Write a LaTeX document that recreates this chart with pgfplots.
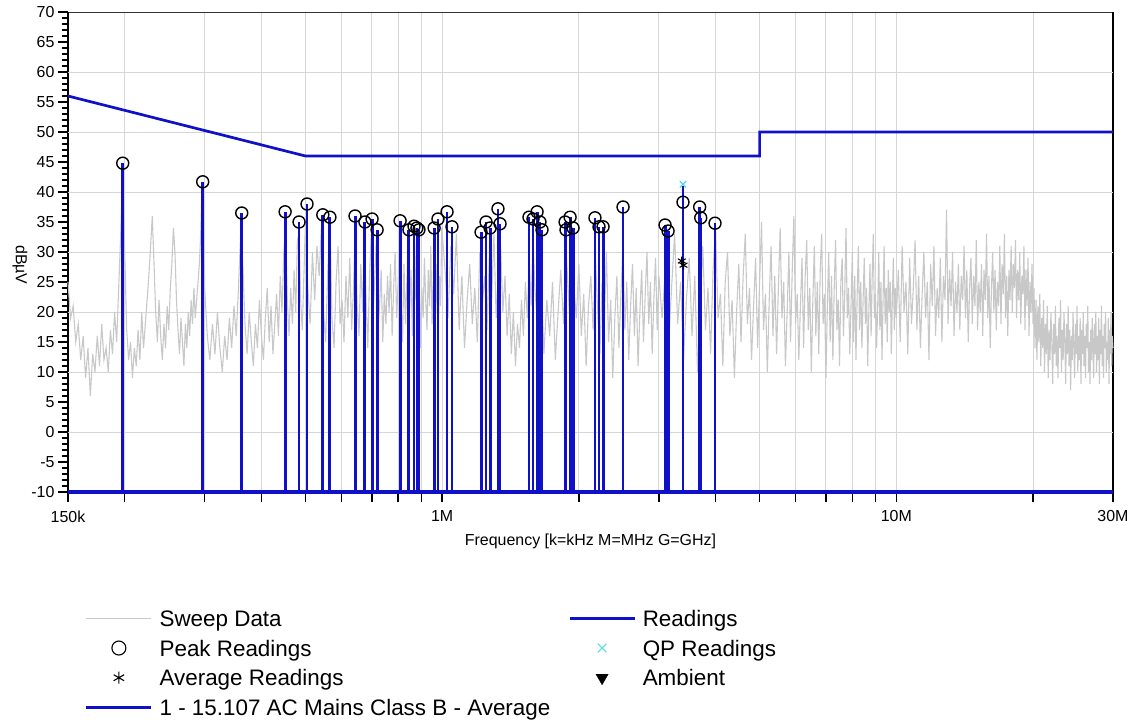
\documentclass[border=0pt]{standalone}
\usepackage{pgfplots}
\pgfplotsset{compat=1.18}
\usepackage{fontspec}
\setmainfont{Liberation Sans}
\definecolor{rblue}{RGB}{16,16,200}
\definecolor{sweep}{RGB}{200,200,200}
\definecolor{gridc}{RGB}{214,214,214}
\definecolor{qpc}{RGB}{90,215,230}
\begin{document}
\begin{tikzpicture}
\begin{axis}[
  scale only axis, width=1045bp, height=480bp,
  xmode=log, xmin=0.15, xmax=30, ymin=-10, ymax=70,
  clip=false,
  /pgf/number format/assume math mode=true,
  tick label style={font=\fontsize{16}{19}\selectfont},
  label style={font=\fontsize{16}{19}\selectfont},
  xticklabel style={yshift=-5bp},
  xtick={0.15,0.2,0.3,0.4,0.5,0.6,0.7,0.8,0.9,1,2,3,4,5,6,7,8,9,10,20,30},
  xticklabels={150k,,,,,,,,,1M,,,,,,,,,10M,,30M},
  ytick={-10,-5,...,70},
  minor y tick num=4,
  xtick pos=bottom, ytick pos=left,
  xmajorgrids,
  major grid style={gridc, line width=0.9bp},
  extra y ticks={0,10,20,30,40,50,60},
  extra y tick labels={},
  extra y tick style={ymajorgrids=true, tick style={draw=none}},
  tick align=outside,
  major tick length=10bp, minor tick length=6bp,
  tick style={black, line width=1.4bp},
  separate axis lines,
  x axis line style={black!80, line width=0.9bp},
  y axis line style={black, line width=2bp},
  xlabel={Frequency [k=kHz M=MHz G=GHz]},
  xlabel style={yshift=-5bp},
  ylabel={dBµV},
  every axis y label/.style={at={(axis description cs:-0.046,0.473)}, rotate=-90, anchor=center, font=\fontsize{16}{19}\selectfont},
  legend columns=2,
  legend style={at={(0.01627,-0.244)}, anchor=north west, draw=none, fill=none,
    inner sep=0pt, font=\fontsize{22.5}{27}\selectfont,
    nodes={inner sep=0pt, text height=17bp, text depth=5bp, anchor=base west},
    row sep=7.7bp,
    /tikz/every odd column/.append style={column sep=7bp},
    /tikz/every even column/.append style={column sep=18bp}},
  legend cell align=left,
  legend image code/.code={\draw[mark repeat=2,mark phase=2,#1] plot coordinates {(0bp,8bp) (32.5bp,8bp) (65bp,8bp)};},
]
% sweep data (MHz, dBuV)
\addplot[sweep, line width=1.1bp, forget plot] table {
0.150 25
0.152 19
0.154 21
0.156 15
0.158 18
0.160 12
0.162 16
0.164 9
0.166 14
0.168 6
0.170 13
0.172 10
0.174 16
0.176 11
0.178 18
0.180 12
0.182 14
0.184 10
0.186 17
0.188 13
0.190 20
0.192 15
0.194 24
0.196 33
0.198 44
0.200 30
0.202 17
0.204 12
0.206 15
0.208 9
0.210 14
0.212 11
0.214 17
0.216 12
0.218 20
0.220 14
0.222 18
0.224 22
0.226 26
0.228 31
0.230 36
0.232 28
0.234 20
0.236 15
0.238 22
0.240 16
0.242 12
0.244 18
0.246 14
0.248 21
0.250 17
0.252 24
0.254 28
0.256 34
0.258 30
0.260 22
0.262 17
0.264 13
0.266 19
0.268 15
0.270 11
0.272 18
0.274 14
0.276 20
0.278 16
0.280 22
0.282 18
0.284 24
0.286 19
0.288 22
0.290 25
0.292 28
0.294 33
0.296 41
0.298 36
0.300 24
0.304 16
0.308 12
0.312 18
0.316 13
0.320 20
0.324 14
0.328 10
0.332 16
0.336 12
0.340 19
0.344 14
0.348 21
0.352 16
0.356 24
0.360 33
0.364 28
0.368 18
0.372 13
0.376 20
0.380 15
0.384 11
0.388 18
0.392 14
0.396 22
0.400 16
0.404 12
0.408 19
0.412 24
0.416 15
0.420 21
0.424 13
0.428 18
0.432 23
0.436 16
0.440 26
0.444 20
0.448 30
0.452 34
0.456 22
0.460 16
0.464 24
0.468 18
0.472 27
0.476 20
0.480 32
0.484 33
0.488 22
0.492 17
0.496 26
0.500 35
0.506 24
0.512 18
0.518 30
0.524 22
0.530 31
0.536 26
0.542 34
0.548 20
0.554 15
0.560 27
0.566 35
0.572 19
0.578 14
0.584 25
0.590 31
0.596 18
0.602 22
0.608 15
0.614 26
0.620 19
0.626 29
0.632 17
0.638 24
0.644 34
0.650 21
0.656 16
0.662 28
0.668 20
0.674 33
0.680 22
0.686 14
0.692 26
0.698 33
0.704 19
0.710 25
0.716 32
0.722 17
0.728 21
0.734 27
0.740 15
0.746 23
0.752 18
0.758 26
0.764 20
0.770 28
0.776 16
0.782 24
0.788 30
0.794 19
0.800 25
0.806 33
0.812 21
0.818 15
0.824 28
0.830 18
0.836 25
0.842 32
0.848 20
0.854 27
0.860 16
0.866 30
0.872 22
0.878 33
0.884 18
0.890 26
0.896 14
0.902 24
0.908 19
0.914 29
0.920 22
0.926 17
0.932 27
0.938 21
0.944 31
0.950 18
0.956 25
0.962 33
0.968 20
0.974 28
0.980 15
0.986 26
0.992 21
0.998 34
1.015 27
1.030 19
1.045 31
1.060 23
1.075 33
1.090 17
1.105 26
1.120 14
1.135 22
1.150 28
1.165 18
1.180 24
1.195 15
1.210 30
1.225 21
1.240 26
1.255 17
1.270 29
1.285 22
1.300 33
1.315 19
1.330 27
1.345 31
1.360 20
1.375 26
1.390 16
1.405 23
1.420 13
1.435 20
1.450 11
1.465 18
1.480 14
1.495 22
1.510 16
1.525 25
1.540 19
1.555 29
1.570 21
1.585 32
1.600 24
1.625 17
1.650 27
1.675 13
1.700 22
1.725 16
1.750 25
1.775 12
1.800 20
1.825 27
1.850 18
1.875 30
1.900 22
1.925 14
1.950 24
1.975 19
2.000 28
2.025 16
2.050 23
2.075 11
2.100 21
2.125 26
2.150 17
2.175 29
2.200 20
2.225 13
2.250 25
2.275 18
2.300 30
2.325 15
2.350 22
2.375 9
2.400 19
2.425 26
2.450 14
2.475 23
2.500 31
2.525 17
2.550 25
2.575 12
2.600 21
2.625 28
2.650 16
2.675 24
2.700 11
2.725 20
2.750 27
2.775 15
2.800 23
2.825 30
2.850 18
2.875 25
2.900 13
2.925 22
2.950 29
2.975 17
3.000 26
3.05 19
3.10 27
3.15 14
3.20 24
3.25 33
3.30 18
3.35 25
3.40 12
3.45 22
3.50 29
3.55 16
3.60 26
3.65 10
3.70 21
3.75 31
3.80 17
3.85 24
3.90 13
3.95 27
4.00 34
4.05 19
4.10 23
4.15 11
4.20 25
4.25 30
4.30 16
4.35 22
4.40 9
4.45 20
4.50 28
4.55 15
4.60 26
4.65 33
4.70 18
4.75 24
4.80 12
4.85 21
4.90 29
4.95 14
5.00 25
5.05 35
5.10 17
5.15 23
5.20 10
5.25 22
5.30 31
5.35 16
5.40 26
5.45 13
5.50 24
5.55 34
5.60 19
5.65 25
5.70 11
5.75 20
5.80 30
5.85 15
5.90 27
5.95 36
6.00 18
6.05 23
6.10 12
6.15 21
6.20 29
6.25 14
6.30 26
6.35 32
6.40 17
6.45 24
6.50 10
6.55 22
6.60 31
6.65 16
6.70 25
6.75 13
6.80 27
6.85 33
6.90 18
6.95 23
7.00 9
7.05 21
7.10 30
7.15 15
7.20 26
7.25 12
7.30 24
7.35 32
7.40 17
7.45 22
7.50 11
7.55 25
7.60 29
7.65 16
7.70 23
7.75 34
7.80 19
7.85 24
7.90 13
7.95 21
8.00 30
8.05 15
8.10 26
8.15 12
8.20 23
8.25 31
8.30 17
8.35 25
8.40 14
8.45 22
8.50 29
8.55 18
8.60 24
8.65 11
8.70 20
8.75 28
8.80 16
8.85 26
8.90 33
8.95 19
9.00 23
9.05 14
9.10 21
9.15 30
9.20 17
9.25 25
9.30 12
9.35 22
9.40 31
9.45 18
9.50 24
9.55 15
9.60 27
9.65 20
9.70 25
9.75 13
9.80 22
9.85 29
9.90 17
9.95 24
10.0 19
10.1 27
10.2 15
10.3 31
10.4 20
10.5 25
10.6 13
10.7 29
10.8 18
10.9 24
11.0 32
11.1 17
11.2 26
11.3 14
11.4 23
11.5 30
11.6 19
11.7 25
11.8 12
11.9 28
12.0 21
12.1 31
12.2 16
12.3 24
12.4 19
12.5 29
12.6 15
12.7 26
12.8 22
12.9 37
13.0 18
13.1 27
13.2 21
13.3 30
13.4 16
13.5 25
13.6 20
13.7 28
13.8 17
13.9 26
14.0 22
14.1 31
14.2 19
14.3 27
14.4 15
14.5 24
14.6 29
14.7 18
14.8 26
14.9 21
15.0 32
15.1 17
15.2 25
15.3 20
15.4 28
15.5 16
15.6 27
15.7 22
15.8 33
15.9 19
16.0 26
16.1 14
16.2 24
16.3 30
16.4 20
16.5 27
16.6 17
16.7 25
16.8 21
16.9 31
17.0 18
17.1 28
17.2 23
17.3 33
17.4 19
17.5 26
17.6 16
17.7 27
17.8 22
17.9 31
18.0 20
18.1 28
18.2 24
18.3 32
18.4 19
18.5 27
18.6 22
18.7 30
18.8 18
18.9 26
19.0 23
19.1 31
19.2 17
19.3 27
19.4 21
19.5 29
19.6 16
19.7 25
19.8 20
19.9 28
20.0 18
20.1 24
20.2 14
20.3 22
20.4 12
20.5 21
20.6 15
20.7 23
20.8 11
20.9 19
21.0 14
21.1 22
21.2 10
21.3 18
21.4 13
21.5 21
21.6 9
21.7 17
21.8 12
21.9 20
22.0 15
22.1 8
22.2 18
22.3 13
22.4 21
22.5 11
22.6 16
22.7 9
22.8 19
22.9 14
23.0 22
23.1 10
23.2 17
23.3 12
23.4 20
23.5 15
23.6 8
23.7 18
23.8 13
23.9 21
24.0 11
24.1 17
24.2 7
24.3 16
24.4 12
24.5 20
24.6 14
24.7 9
24.8 18
24.9 13
25.0 21
25.1 10
25.2 16
25.3 12
25.4 19
25.5 8
25.6 17
25.7 13
25.8 20
25.9 11
26.0 16
26.1 9
26.2 18
26.3 14
26.4 21
26.5 10
26.6 15
26.7 8
26.8 17
26.9 12
27.0 19
27.1 14
27.2 9
27.3 18
27.4 13
27.5 20
27.6 10
27.7 16
27.8 12
27.9 19
28.0 8
28.1 17
28.2 13
28.3 21
28.4 11
28.5 16
28.6 9
28.7 18
28.8 14
28.9 20
29.0 10
29.1 15
29.2 12
29.3 19
29.4 8
29.5 17
29.6 13
29.7 20
29.8 11
29.9 16
30.0 14
};
% limit line
\addplot[rblue, line width=2.7bp, forget plot] coordinates {(0.15,56) (0.5,46) (5,46) (5,50) (30,50)};
% readings (vertical lines from -10)
\addplot[rblue, line width=2.9bp, unbounded coords=jump, forget plot] coordinates {
(0.198,-10) (0.198,44.8) (0.198,nan)
(0.297,-10) (0.297,41.7) (0.297,nan)
(0.362,-10) (0.362,36.5) (0.362,nan)
(0.451,-10) (0.451,36.7) (0.451,nan)
(0.484,-10) (0.484,35.0) (0.484,nan)
(0.504,-10) (0.504,38.0) (0.504,nan)
(0.546,-10) (0.546,36.2) (0.546,nan)
(0.566,-10) (0.566,35.8) (0.566,nan)
(0.643,-10) (0.643,36.0) (0.643,nan)
(0.676,-10) (0.676,35.0) (0.676,nan)
(0.701,-10) (0.701,35.5) (0.701,nan)
(0.719,-10) (0.719,33.7) (0.719,nan)
(0.808,-10) (0.808,35.2) (0.808,nan)
(0.845,-10) (0.845,33.7) (0.845,nan)
(0.867,-10) (0.867,34.3) (0.867,nan)
(0.880,-10) (0.880,34.0) (0.880,nan)
(0.889,-10) (0.889,33.7) (0.889,nan)
(0.960,-10) (0.960,34.0) (0.960,nan)
(0.979,-10) (0.979,35.5) (0.979,nan)
(1.025,-10) (1.025,36.7) (1.025,nan)
(1.051,-10) (1.051,34.2) (1.051,nan)
(1.218,-10) (1.218,33.3) (1.218,nan)
(1.249,-10) (1.249,35.0) (1.249,nan)
(1.275,-10) (1.275,34.0) (1.275,nan)
(1.327,-10) (1.327,37.2) (1.327,nan)
(1.341,-10) (1.341,34.7) (1.341,nan)
(1.553,-10) (1.553,35.8) (1.553,nan)
(1.585,-10) (1.585,35.5) (1.585,nan)
(1.618,-10) (1.618,36.7) (1.618,nan)
(1.642,-10) (1.642,35.0) (1.642,nan)
(1.659,-10) (1.659,33.7) (1.659,nan)
(1.865,-10) (1.865,35.0) (1.865,nan)
(1.874,-10) (1.874,33.7) (1.874,nan)
(1.913,-10) (1.913,35.8) (1.913,nan)
(1.942,-10) (1.942,34.0) (1.942,nan)
(2.170,-10) (2.170,35.7) (2.170,nan)
(2.215,-10) (2.215,34.2) (2.215,nan)
(2.261,-10) (2.261,34.2) (2.261,nan)
(2.502,-10) (2.502,37.5) (2.502,nan)
(3.096,-10) (3.096,34.5) (3.096,nan)
(3.144,-10) (3.144,33.5) (3.144,nan)
(3.391,-10) (3.391,41.0) (3.391,nan)
(3.690,-10) (3.690,37.5) (3.690,nan)
(3.710,-10) (3.710,35.7) (3.710,nan)
(3.989,-10) (3.989,34.8)
};
% readings baseline
\addplot[rblue, line width=3.5bp, forget plot] coordinates {(0.15,-10) (30,-10)};
% peak readings
\addplot[only marks, mark=o, mark size=6bp, mark options={line width=1.4bp}, black, forget plot] coordinates {
(0.198,44.8) (0.297,41.7) (0.362,36.5) (0.451,36.7) (0.484,35.0) (0.504,38.0)
(0.546,36.2) (0.566,35.8) (0.643,36.0) (0.676,35.0) (0.701,35.5) (0.719,33.7)
(0.808,35.2) (0.845,33.7) (0.867,34.3) (0.880,34.0) (0.889,33.7) (0.960,34.0)
(0.979,35.5) (1.025,36.7) (1.051,34.2) (1.218,33.3) (1.249,35.0) (1.275,34.0)
(1.327,37.2) (1.341,34.7) (1.553,35.8) (1.585,35.5) (1.618,36.7) (1.642,35.0)
(1.659,33.7) (1.865,35.0) (1.874,33.7) (1.913,35.8) (1.942,34.0) (2.170,35.7)
(2.215,34.2) (2.261,34.2) (2.502,37.5) (3.096,34.5) (3.144,33.5) (3.391,38.3)
(3.690,37.5) (3.710,35.7) (3.989,34.8)
};
% QP reading
\addplot[only marks, mark=x, mark size=4.5bp, mark options={line width=1.2bp}, qpc, forget plot] coordinates {(3.391,41.3)};
% average readings
\addplot[only marks, mark=asterisk, mark size=4.5bp, mark options={line width=1.1bp}, black, forget plot] coordinates {(3.370,28.5) (3.400,27.8)};
% legend
\addlegendimage{sweep, line width=0.9bp}
\addlegendentry{Sweep Data}
\addlegendimage{rblue, line width=2.4bp}
\addlegendentry{Readings}
\addlegendimage{only marks, mark=o, mark size=7bp, mark options={line width=1.1bp}, black}
\addlegendentry{Peak Readings}
\addlegendimage{only marks, mark=x, mark size=6bp, mark options={line width=1.1bp}, qpc}
\addlegendentry{QP Readings}
\addlegendimage{only marks, mark=asterisk, mark size=6bp, mark options={line width=1.1bp}, black}
\addlegendentry{Average Readings}
\addlegendimage{only marks, mark=triangle*, mark size=7bp, mark options={rotate=180}, black}
\addlegendentry{Ambient}
\addlegendimage{rblue, line width=2.4bp}
\addlegendentry{1 - 15.107 AC Mains Class B - Average}
\end{axis}
\pgfresetboundingbox
\path (current axis.south west) ++(-68bp,-231bp) rectangle ++(1133bp,723bp);
\end{tikzpicture}
\end{document}
